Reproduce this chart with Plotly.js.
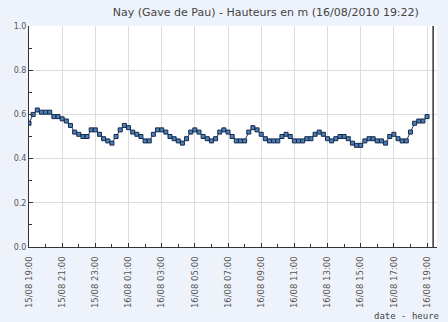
<!DOCTYPE html>
<html>
<head>
<meta charset="utf-8">
<script src="https://cdn.plot.ly/plotly-3.0.1.min.js"></script>
<style>html,body{margin:0;padding:0;background:#eef3fb;}#chart{width:448px;height:322px;}</style>
</head>
<body>
<div id="chart"></div>
<script>
// Water height (m) every 15 minutes from 15/08/2010 19:00
var startTime = '2010-08-15 19:00';
var stepMs = 15 * 60 * 1000;
var heights = [
  0.56, 0.60, 0.62, 0.61, 0.61, 0.61, 0.59, 0.59, 0.58, 0.57, 0.55, 0.52, 0.51, 0.50, 0.50, 0.53, 0.53, 0.51, 0.49, 0.48, 0.47, 0.50, 0.53, 0.55, 0.54,
  0.52, 0.51, 0.50, 0.48, 0.48, 0.51, 0.53, 0.53, 0.52, 0.50, 0.49, 0.48, 0.47, 0.49, 0.52, 0.53, 0.52, 0.50, 0.49, 0.48, 0.49, 0.52, 0.53, 0.52,
  0.50, 0.48, 0.48, 0.48, 0.52, 0.54, 0.53, 0.51, 0.49, 0.48, 0.48, 0.48, 0.50, 0.51, 0.50, 0.48, 0.48, 0.48, 0.49, 0.49, 0.51, 0.52, 0.51,
  0.49, 0.48, 0.49, 0.50, 0.50, 0.49, 0.47, 0.46, 0.46, 0.48, 0.49, 0.49, 0.48, 0.48, 0.47, 0.50, 0.51, 0.49, 0.48, 0.48, 0.52, 0.56, 0.57, 0.57, 0.59
];
var nowTime = '2010-08-16 19:22';
var xRange = ['2010-08-15 19:00', '2010-08-16 19:36'];
var yTicks = [0, 0.2, 0.4, 0.6, 0.8, 1.0];
var titleText = 'Nay (Gave de Pau) - Hauteurs en m (16/08/2010 19:22)';
var xTitleText = 'date - heure';

var trace = {
  type: 'scatter',
  mode: 'lines+markers',
  x0: startTime,
  dx: stepMs,
  y: heights,
  line: {color: '#1b365f', width: 1},
  marker: {symbol: 'square', size: 4, color: '#4d7fb5', line: {color: '#13294b', width: 1}},
  hoverinfo: 'skip'
};

var layout = {
  width: 448, height: 322,
  paper_bgcolor: '#eef3fb',
  plot_bgcolor: '#ffffff',
  margin: {l: 29, r: 11, t: 26, b: 75},
  showlegend: false,
  font: {family: 'DejaVu Sans, Verdana, sans-serif', size: 8, color: '#555'},
  title: {
    text: titleText,
    font: {family: 'DejaVu Sans, Verdana, sans-serif', size: 11, color: '#444'},
    xref: 'container', yref: 'container',
    x: 0.935, xanchor: 'right', y: 0.962, yanchor: 'middle'
  },
  xaxis: {
    type: 'date',
    range: xRange,
    tickmode: 'linear',
    tick0: '2010-08-15 19:00',
    dtick: 2 * 3600 * 1000,
    tickformat: '%d/%m %H:%M',
    tickangle: -90,
    ticks: 'inside', ticklen: 4, tickcolor: '#333', tickwidth: 1,
    ticklabelstandoff: 5,
    minor: {dtick: 3600 * 1000, ticks: 'inside', ticklen: 3, tickcolor: '#333', showgrid: false},
    showgrid: true, gridcolor: '#dcdcdc', gridwidth: 1,
    showline: true, linecolor: '#333', linewidth: 1,
    zeroline: false,
    tickfont: {family: 'DejaVu Sans, Verdana, sans-serif', size: 8.5, color: '#555'},
    fixedrange: true
  },
  yaxis: {
    range: [0, 1],
    tickmode: 'array',
    tickvals: yTicks,
    tickformat: '.1f',
    ticks: 'inside', ticklen: 4, tickcolor: '#333',
    minor: {dtick: 0.1, ticks: 'inside', ticklen: 3, tickcolor: '#333', showgrid: false},
    showgrid: true, gridcolor: '#dcdcdc', gridwidth: 1,
    showline: true, linecolor: '#333', linewidth: 1,
    zeroline: false,
    tickfont: {family: 'DejaVu Sans, Verdana, sans-serif', size: 8, color: '#555'},
    fixedrange: true
  },
  shapes: [{
    type: 'line', xref: 'x', yref: 'paper',
    x0: nowTime, x1: nowTime, y0: 0, y1: 1,
    line: {color: '#333', width: 1.5}
  }],
  annotations: [{
    text: xTitleText,
    xref: 'paper', yref: 'paper',
    x: 1.01, xanchor: 'right',
    y: -0.31, yanchor: 'middle',
    showarrow: false,
    font: {family: 'DejaVu Sans Mono, monospace', size: 9, color: '#444'}
  }]
};

Plotly.newPlot('chart', [trace], layout, {displayModeBar: false, staticPlot: true});
</script>
</body>
</html>
